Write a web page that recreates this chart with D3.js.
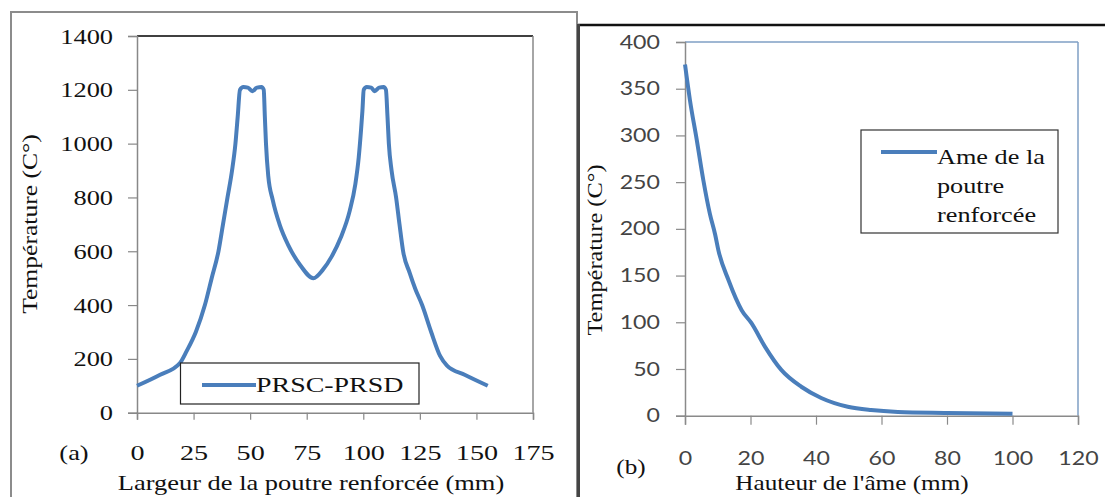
<!DOCTYPE html>
<html><head><meta charset="utf-8">
<script src="https://cdnjs.cloudflare.com/ajax/libs/d3/7.8.5/d3.min.js"></script>
<style>body{margin:0;background:#fff}svg{display:block}
.serif{font-family:"Liberation Serif","DejaVu Serif",serif !important}
.sans{font-family:Lato,"Liberation Sans",sans-serif !important}
</style>
</head><body>
<svg id="c" width="1105" height="497"></svg>
<script>
// ---- Data: panel (a)
const widthMm = [0,10,19,22,26,30,33,36,38,40,42,43.5,44.5,45.5,47,49,51,53,55,56,56.5,57,58,60,63,67,72,78,82,86,90,94,96.5,98,99,99.6,100.2,101.5,103.5,105,107,109,110,110.7,111.3,112.5,114.5,116,117.6,120.5,123,126,130,134,137,145,155];
const tempA = [100,140,185,230,300,400,500,600,700,800,900,1000,1100,1200,1210,1208,1195,1208,1210,1200,1100,1000,880,790,700,620,550,500,530,580,650,750,850,950,1050,1120,1200,1210,1208,1195,1208,1210,1200,1100,1000,900,800,700,600,520,460,400,300,210,175,140,100];
const xTicksA = [0,25,50,75,100,125,150,175];
const yTicksA = [0,200,400,600,800,1000,1200,1400];
const seriesA = "PRSC-PRSD";
// ---- Data: panel (b)
const heightMm = [0,1.5,3.6,5.6,7.6,9.2,10.2,13.3,17.3,20.3,24.4,29.4,35.5,41.6,49.7,56.8,65,80,100];
const tempB = [376,338,295,252,216,194,177,145,113,99,74,49,31,19,9.6,6,4,3,2];
const xTicksB = [0,20,40,60,80,100,120];
const yTicksB = [0,50,100,150,200,250,300,350,400];
const seriesB = ["Ame de la","poutre","renforcée"];

const svg = d3.select("#c");
const lineColor = "#4a7ebb";

function stext(parent, x, y, txt, opt) {
  const sx = opt.sx || 1.2;
  return parent.append("text")
    .attr("class", opt.cls || "serif")
    .attr("transform", `translate(${x},${y}) ${opt.rot ? "rotate(-90) " : ""}scale(${sx},1)`)
    .attr("text-anchor", opt.anchor || "start")
    .style("font-size", (opt.size||20)+"px")
    .style("fill", opt.fill || "#111").text(txt);
}
function styleAxis(a, cls, size, fill, sx, color) {
  a.attr("font-family", null).attr("font-size", null);
  a.select(".domain").attr("stroke",color).attr("stroke-width",1.5);
  a.selectAll(".tick line").attr("stroke",color).attr("stroke-width",1.2);
  a.selectAll("text").attr("class",cls).style("font-size",size+"px").style("fill",fill)
    .each(function(){ const t=d3.select(this); const x=+t.attr("x")||0; t.attr("x", x/sx).attr("transform",`scale(${sx},1)`); });
}

// Outer frames
svg.append("rect").attr("x",11).attr("y",12).attr("width",566).attr("height",500)
  .attr("fill","none").attr("stroke","#8c8c8c").attr("stroke-width",2);
svg.append("line").attr("x1",578).attr("x2",1105).attr("y1",25).attr("y2",25).attr("stroke","#111").attr("stroke-width",2.5);
svg.append("line").attr("x1",578.5).attr("x2",578.5).attr("y1",24).attr("y2",497).attr("stroke","#444").attr("stroke-width",3);

// ---------- Panel (a)
{
  const L=137,R=533,T=36,B=412.7;
  const x = d3.scaleLinear().domain([0,175]).range([L,R]);
  const y = d3.scaleLinear().domain([0,1400]).range([B,T]);
  const g = svg.append("g");
  g.append("line").attr("x1",L).attr("x2",R).attr("y1",T).attr("y2",T).attr("stroke","#000").attr("stroke-width",1.5);
  g.append("line").attr("x1",R).attr("x2",R).attr("y1",T).attr("y2",B).attr("stroke","#888").attr("stroke-width",1.5);
  const ya = g.append("g").attr("transform",`translate(${L},0)`)
    .call(d3.axisLeft(y).tickValues(yTicksA).tickFormat(d3.format("d")).tickSize(9).tickPadding(15));
  const xa = g.append("g").attr("transform",`translate(0,${B})`)
    .call(d3.axisBottom(x).tickValues(xTicksA).tickFormat(d3.format("d")).tickSize(7).tickPadding(25));
  styleAxis(ya, "serif", 22, "#111", 1.2, "#888");
  styleAxis(xa, "serif", 22, "#111", 1.28, "#888");
  const line = d3.line().x((d,i)=>x(widthMm[i])).y(d=>y(d)).curve(d3.curveMonotoneX);
  g.append("path").attr("d",line(tempA)).attr("fill","none").attr("stroke",lineColor).attr("stroke-width",4).attr("stroke-linejoin","round");
  // legend
  g.append("rect").attr("x",180.5).attr("y",363).attr("width",238.5).attr("height",41).attr("fill","#fff").attr("stroke","#222").attr("stroke-width",1.2);
  g.append("line").attr("x1",202).attr("x2",256).attr("y1",385).attr("y2",385).attr("stroke",lineColor).attr("stroke-width",4);
  stext(g, 256, 392, seriesA, {size:22, sx:1.27});
  stext(g, 74, 460, "(a)", {size:22, anchor:"middle", sx:1.2});
  stext(g, 311, 490, "Largeur de la poutre renforcée (mm)", {size:21, anchor:"middle", sx:1.26});
  stext(g, 37, 224, "Température  (C°)", {size:21, anchor:"middle", rot:true, sx:1.22});
}

// ---------- Panel (b)
{
  const L=685,R=1078,T=42,B=415.7;
  const x = d3.scaleLinear().domain([0,120]).range([L,R]);
  const y = d3.scaleLinear().domain([0,400]).range([B,T]);
  const g = svg.append("g");
  g.append("line").attr("x1",L).attr("x2",R).attr("y1",T).attr("y2",T).attr("stroke","#7f9fc4").attr("stroke-width",1.5);
  g.append("line").attr("x1",R).attr("x2",R).attr("y1",T).attr("y2",B).attr("stroke","#7f9fc4").attr("stroke-width",1.5);
  const ya = g.append("g").attr("transform",`translate(${L},0)`)
    .call(d3.axisLeft(y).tickValues(yTicksB).tickSize(9).tickPadding(16));
  const xa = g.append("g").attr("transform",`translate(0,${B})`)
    .call(d3.axisBottom(x).tickValues(xTicksB).tickSize(9).tickPadding(27));
  styleAxis(ya, "sans", 19, "#444", 1.22, "#8a8a8a");
  styleAxis(xa, "sans", 19, "#444", 1.22, "#8a8a8a");
  const line = d3.line().x((d,i)=>x(heightMm[i])).y(d=>y(d)).curve(d3.curveMonotoneX);
  g.append("path").attr("d",line(tempB)).attr("fill","none").attr("stroke",lineColor).attr("stroke-width",4).attr("stroke-linejoin","round");
  g.append("rect").attr("x",861).attr("y",130).attr("width",197).attr("height",103).attr("fill","#fff").attr("stroke","#333").attr("stroke-width",1.2);
  g.append("line").attr("x1",881).attr("x2",937).attr("y1",152).attr("y2",152).attr("stroke",lineColor).attr("stroke-width",4);
  seriesB.forEach((t,i)=>{ stext(g, 937, 164+i*29, t, {size:21, sx:1.25}); });
  stext(g, 631, 474, "(b)", {size:21, anchor:"middle", sx:1.2});
  stext(g, 852, 490, "Hauteur de l'âme (mm)", {size:21, anchor:"middle", sx:1.2});
  stext(g, 602, 250, "Température (C°)", {size:20, anchor:"middle", rot:true, sx:1.22});
}
</script>
</body></html>
